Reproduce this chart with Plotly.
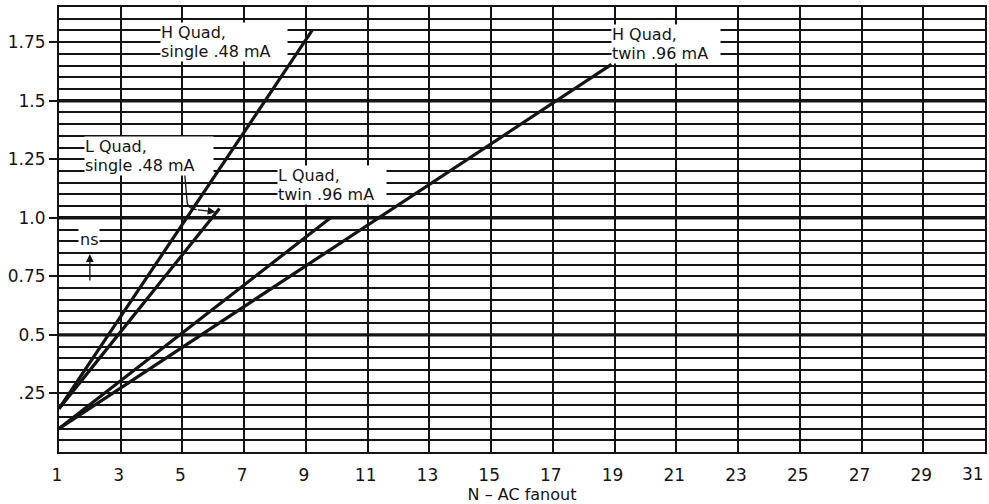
import plotly.graph_objects as go

# Propagation delay (ns) versus AC fanout for the four quad drivers
h_single_x = [1, 9.2]
h_single_y = [0.185, 1.80]
l_single_x = [1, 6.2]
l_single_y = [0.185, 1.04]
l_twin_x = [1, 9.8]
l_twin_y = [0.10, 1.00]
h_twin_x = [1, 18.9]
h_twin_y = [0.10, 1.655]

x_tick_vals = list(range(1, 32, 2))
x_tick_text = [str(v) for v in x_tick_vals]
y_tick_vals = [0.25, 0.5, 0.75, 1.0, 1.25, 1.5, 1.75]
y_tick_text = [".25", "0.5", "0.75", "1.0", "1.25", "1.5", "1.75"]
bold_levels = [0.5, 1.0, 1.5]

INK = "#141414"
FONT = "DejaVu Sans"
SIZE = 17
LABEL_SIZE = 16

fig = go.Figure()
for xs, ys in [(h_single_x, h_single_y), (l_single_x, l_single_y),
               (l_twin_x, l_twin_y), (h_twin_x, h_twin_y)]:
    fig.add_trace(go.Scatter(x=xs, y=ys, mode="lines",
                             line=dict(color=INK, width=3.2),
                             showlegend=False, hoverinfo="skip"))

# heavier rules every 0.5 ns
for lvl in bold_levels:
    fig.add_shape(type="line", xref="x", yref="y", x0=1, x1=31, y0=lvl, y1=lvl,
                  line=dict(color=INK, width=3.4), layer="between")


def two_lines(a, b):
    # the annotation font sets the line pitch, the spans set the glyph size
    span = "<span style='font-size:%dpx'>%s</span>"
    return span % (LABEL_SIZE, a) + "<br>" + span % (LABEL_SIZE, b)


# two-line curve labels on white patches
labels = [
    ("H Quad,", "single .48 mA", 4.26, 1.752, 126),
    ("L Quad,", "single .48 mA", 1.80, 1.262, 128),
    ("L Quad,", "twin .96 mA", 8.05, 1.138, 108),
    ("H Quad,", "twin .96 mA", 18.88, 1.743, 108),
]
for top, bottom, x, y, w in labels:
    fig.add_annotation(x=x, y=y, xref="x", yref="y", text=two_lines(top, bottom),
                       showarrow=False, xanchor="left", yanchor="middle",
                       align="left", width=w, bgcolor="white", borderpad=0,
                       font=dict(family=FONT, size=14.4, color=INK))

# unit label with upward arrow
fig.add_annotation(x=1.97, y=0.909, xref="x", yref="y", text="ns",
                   showarrow=False, xanchor="center", yanchor="middle",
                   bgcolor="white", borderpad=1,
                   font=dict(family=FONT, size=LABEL_SIZE, color=INK))
fig.add_annotation(x=2.0, y=0.845, ax=2.0, ay=0.726, xref="x", yref="y",
                   axref="x", ayref="y", text="", showarrow=True,
                   arrowhead=2, arrowsize=1.2, arrowwidth=1.3, arrowcolor=INK)

# leader from the L Quad single label to its curve
fig.add_shape(type="path", xref="x", yref="y",
              path="M 5.073,1.187 L 5.154,1.063 Q 5.203,1.037 5.461,1.035",
              line=dict(color=INK, width=1.3), layer="above")
fig.add_annotation(x=6.07, y=1.025, ax=5.45, ay=1.035, xref="x", yref="y",
                   axref="x", ayref="y", text="", showarrow=True,
                   arrowhead=2, arrowsize=1.2, arrowwidth=1.3, arrowcolor=INK)

# the last fanout label sits flush with the right edge of the frame
fig.add_annotation(x=x_tick_vals[-1], y=0, xref="x", yref="y", text=x_tick_text[-1],
                   showarrow=False, xanchor="right", yanchor="top",
                   xshift=1, yshift=-10,
                   font=dict(family=FONT, size=SIZE, color=INK))

fig.update_xaxes(range=[1, 31], tickmode="array", tickvals=x_tick_vals,
                 ticktext=x_tick_text[:-1] + [""],
                 showgrid=True, gridcolor=INK, gridwidth=2,
                 showline=True, linecolor=INK, linewidth=2, mirror=True,
                 zeroline=False, ticks="", ticklabelstandoff=7, ticklabelshift=-2,
                 tickfont=dict(family=FONT, size=SIZE, color=INK),
                 title=dict(text="N \u2013 AC fanout", standoff=3,
                            font=dict(family=FONT, size=16, color=INK)))
fig.update_yaxes(range=[0, 1.9], tickmode="array", tickvals=y_tick_vals,
                 ticktext=y_tick_text,
                 showgrid=True, gridcolor=INK, gridwidth=2,
                 minor=dict(tickmode="linear", tick0=0, dtick=0.05,
                            showgrid=True, gridcolor=INK, gridwidth=2, ticks=""),
                 showline=True, linecolor=INK, linewidth=2, mirror=True,
                 zeroline=False, ticks="outside", ticklen=8, tickwidth=1.5,
                 tickcolor=INK,
                 tickfont=dict(family=FONT, size=SIZE, color=INK))

fig.update_layout(width=989, height=504,
                  margin=dict(l=59, r=2, t=7, b=52),
                  paper_bgcolor="white", plot_bgcolor="white",
                  showlegend=False)

fig.write_html("out.html")
